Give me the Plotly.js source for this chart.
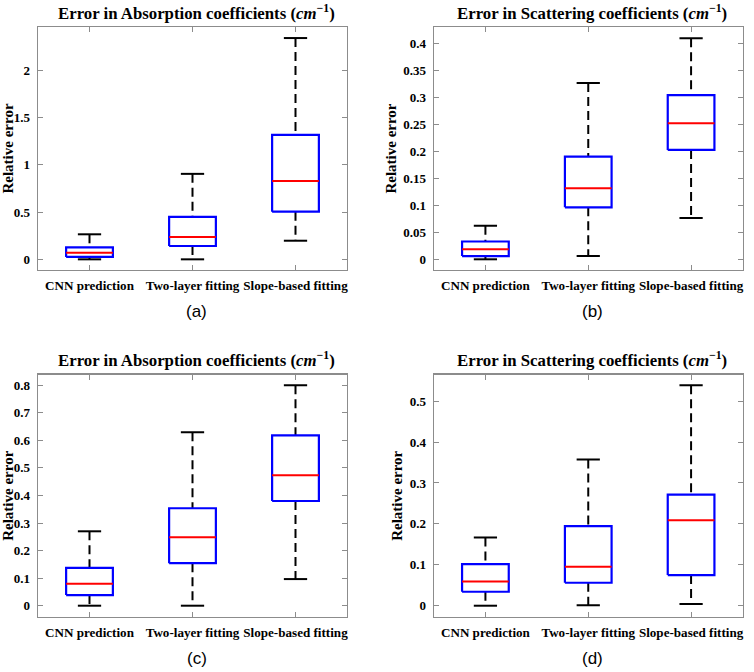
<!DOCTYPE html>
<html><head><meta charset="utf-8">
<script src="https://cdn.plot.ly/plotly-3.0.1.min.js"></script>
<style>html,body{margin:0;padding:0;background:#fff}</style>
</head><body><div id="chart" style="width:754px;height:672px"></div>
<script>
const categories = ['CNN prediction', 'Two-layer fitting', 'Slope-based fitting'];

// (a) Absorption
const aLower  = [0.000, 0.000, 0.197];
const aQ1     = [0.025, 0.141, 0.505];
const aMedian = [0.070, 0.236, 0.830];
const aQ3     = [0.127, 0.449, 1.318];
const aUpper  = [0.265, 0.905, 2.343];
const aTicks  = [0, 0.5, 1, 1.5, 2];
const aTickText = ['0', '0.5', '1', '1.5', '2'];

// (b) Scattering
const bLower  = [0.000, 0.006, 0.0765];
const bQ1     = [0.006, 0.0963, 0.2025];
const bMedian = [0.0185, 0.1315, 0.252];
const bQ3     = [0.033, 0.190, 0.304];
const bUpper  = [0.062, 0.3265, 0.409];
const bTicks  = [0, 0.05, 0.1, 0.15, 0.2, 0.25, 0.3, 0.35, 0.4];
const bTickText = ['0', '0.05', '0.1', '0.15', '0.2', '0.25', '0.3', '0.35', '0.4'];

// (c) Absorption
const cLower  = [0.000, 0.000, 0.0966];
const cQ1     = [0.0386, 0.1545, 0.380];
const cMedian = [0.0796, 0.2486, 0.473];
const cQ3     = [0.1376, 0.3536, 0.618];
const cUpper  = [0.270, 0.629, 0.800];
const cTicks  = [0, 0.1, 0.2, 0.3, 0.4, 0.5, 0.6, 0.7, 0.8];
const cTickText = ['0', '0.1', '0.2', '0.3', '0.4', '0.5', '0.6', '0.7', '0.8'];

// (d) Scattering
const dLower  = [0.000, 0.001, 0.004];
const dQ1     = [0.0341, 0.0561, 0.0748];
const dMedian = [0.0593, 0.0951, 0.209];
const dQ3     = [0.1016, 0.1943, 0.2715];
const dUpper  = [0.1667, 0.357, 0.539];
const dTicks  = [0, 0.1, 0.2, 0.3, 0.4, 0.5];
const dTickText = ['0', '0.1', '0.2', '0.3', '0.4', '0.5'];

const titles = [
  'Error in Absorption coefficients (<i>cm</i><sup>−1</sup>)',
  'Error in Scattering coefficients (<i>cm</i><sup>−1</sup>)',
  'Error in Absorption coefficients (<i>cm</i><sup>−1</sup>)',
  'Error in Scattering coefficients (<i>cm</i><sup>−1</sup>)'
];
const panelLabels = ['(a)', '(b)', '(c)', '(d)'];

const BOX_HALF = 0.227, CAP_HALF = 0.113;
const serif = 'Liberation Serif, Times New Roman, serif';

function boxTraces(lower, q1, med, q3, upper, xa, ya) {
  const pos = categories.map((_, i) => i + 1);
  const wx = [], wy = [], cx = [], cy = [], bx = [], by = [], mx = [], my = [];
  pos.forEach((p, i) => {
    wx.push(p, p, null, p, p, null);
    wy.push(upper[i], q3[i], null, q1[i], lower[i], null);
    cx.push(p - CAP_HALF, p + CAP_HALF, null, p - CAP_HALF, p + CAP_HALF, null);
    cy.push(upper[i], upper[i], null, lower[i], lower[i], null);
    bx.push(p - BOX_HALF, p + BOX_HALF, p + BOX_HALF, p - BOX_HALF, p - BOX_HALF, null);
    by.push(q1[i], q1[i], q3[i], q3[i], q1[i], null);
    mx.push(p - BOX_HALF, p + BOX_HALF, null);
    my.push(med[i], med[i], null);
  });
  const base = {type: 'scatter', mode: 'lines', xaxis: xa, yaxis: ya, hoverinfo: 'skip', showlegend: false, connectgaps: false};
  return [
    Object.assign({}, base, {x: wx, y: wy, line: {color: '#000', width: 2, dash: '9px,5px'}}),
    Object.assign({}, base, {x: cx, y: cy, line: {color: '#000', width: 2}}),
    Object.assign({}, base, {x: bx, y: by, line: {color: '#0000ff', width: 2.2}}),
    Object.assign({}, base, {x: mx, y: my, line: {color: '#ff0000', width: 2}})
  ];
}

const data = [].concat(
  boxTraces(aLower, aQ1, aMedian, aQ3, aUpper, 'x', 'y'),
  boxTraces(bLower, bQ1, bMedian, bQ3, bUpper, 'x2', 'y2'),
  boxTraces(cLower, cQ1, cMedian, cQ3, cUpper, 'x3', 'y3'),
  boxTraces(dLower, dQ1, dMedian, dQ3, dUpper, 'x4', 'y4')
);

const W = 754, H = 672;
const frames = [
  {l: 38, r: 347, t: 27, b: 270},
  {l: 434, r: 742.5, t: 27, b: 270},
  {l: 38, r: 347, t: 374.5, b: 617},
  {l: 434, r: 742.5, t: 374.5, b: 617}
];
const yRanges = [[-0.113, 2.46], [-0.0198, 0.430], [-0.041, 0.839], [-0.0276, 0.565]];
const yTickVals = [aTicks, bTicks, cTicks, dTicks];
const yTickTexts = [aTickText, bTickText, cTickText, dTickText];

const xTickFont = {family: serif, size: 13.1, color: '#000', weight: 700};
const yTickFont = {family: serif, size: 13, color: '#000', weight: 700};
const layout = {
  width: W, height: H,
  margin: {l: 0, r: 0, t: 0, b: 0},
  paper_bgcolor: '#fff', plot_bgcolor: '#fff',
  showlegend: false,
  annotations: []
};

frames.forEach((f, i) => {
  const sx = i === 0 ? '' : String(i + 1);
  layout['xaxis' + sx] = {
    domain: [f.l / W, f.r / W], anchor: 'y' + sx,
    range: [0.5, 3.5], tickmode: 'array', tickvals: [1, 2, 3], ticktext: categories,
    tickangle: 0,
    ticks: 'inside', ticklen: 5, tickwidth: 1, tickcolor: '#8c8c8c',
    showline: true, linecolor: '#8c8c8c', linewidth: 1.3, mirror: 'ticks',
    showgrid: false, zeroline: false, tickfont: xTickFont, ticklabelstandoff: 3,
    fixedrange: true
  };
  layout['yaxis' + sx] = {
    domain: [1 - f.b / H, 1 - f.t / H], anchor: 'x' + sx,
    range: yRanges[i], tickmode: 'array', tickvals: yTickVals[i], ticktext: yTickTexts[i],
    ticks: 'inside', ticklen: 5, tickwidth: 1, tickcolor: '#8c8c8c',
    showline: true, linecolor: '#8c8c8c', linewidth: 1.3, mirror: 'ticks',
    showgrid: false, zeroline: false, tickfont: yTickFont, ticklabelstandoff: 4,
    title: {text: 'Relative error', font: {family: serif, size: 15, color: '#000', weight: 700}, standoff: 3},
    fixedrange: true
  };
  layout.annotations.push({
    xref: 'paper', yref: 'paper', x: ((f.l + f.r) / 2 + 4) / W, y: 1 - (f.t - 15) / H,
    text: titles[i], showarrow: false, xanchor: 'center', yanchor: 'middle',
    font: {family: serif, size: 16.8, color: '#000', weight: 700}
  });
  layout.annotations.push({
    xref: 'paper', yref: 'paper', x: ((f.l + f.r) / 2 + 4) / W, y: 1 - (f.b + 41) / H,
    text: panelLabels[i], showarrow: false, xanchor: 'center', yanchor: 'middle',
    font: {family: 'Liberation Sans, Arial, sans-serif', size: 17, color: '#000'}
  });
});

Plotly.newPlot('chart', data, layout, {displayModeBar: false, staticPlot: true});
</script></body></html>
